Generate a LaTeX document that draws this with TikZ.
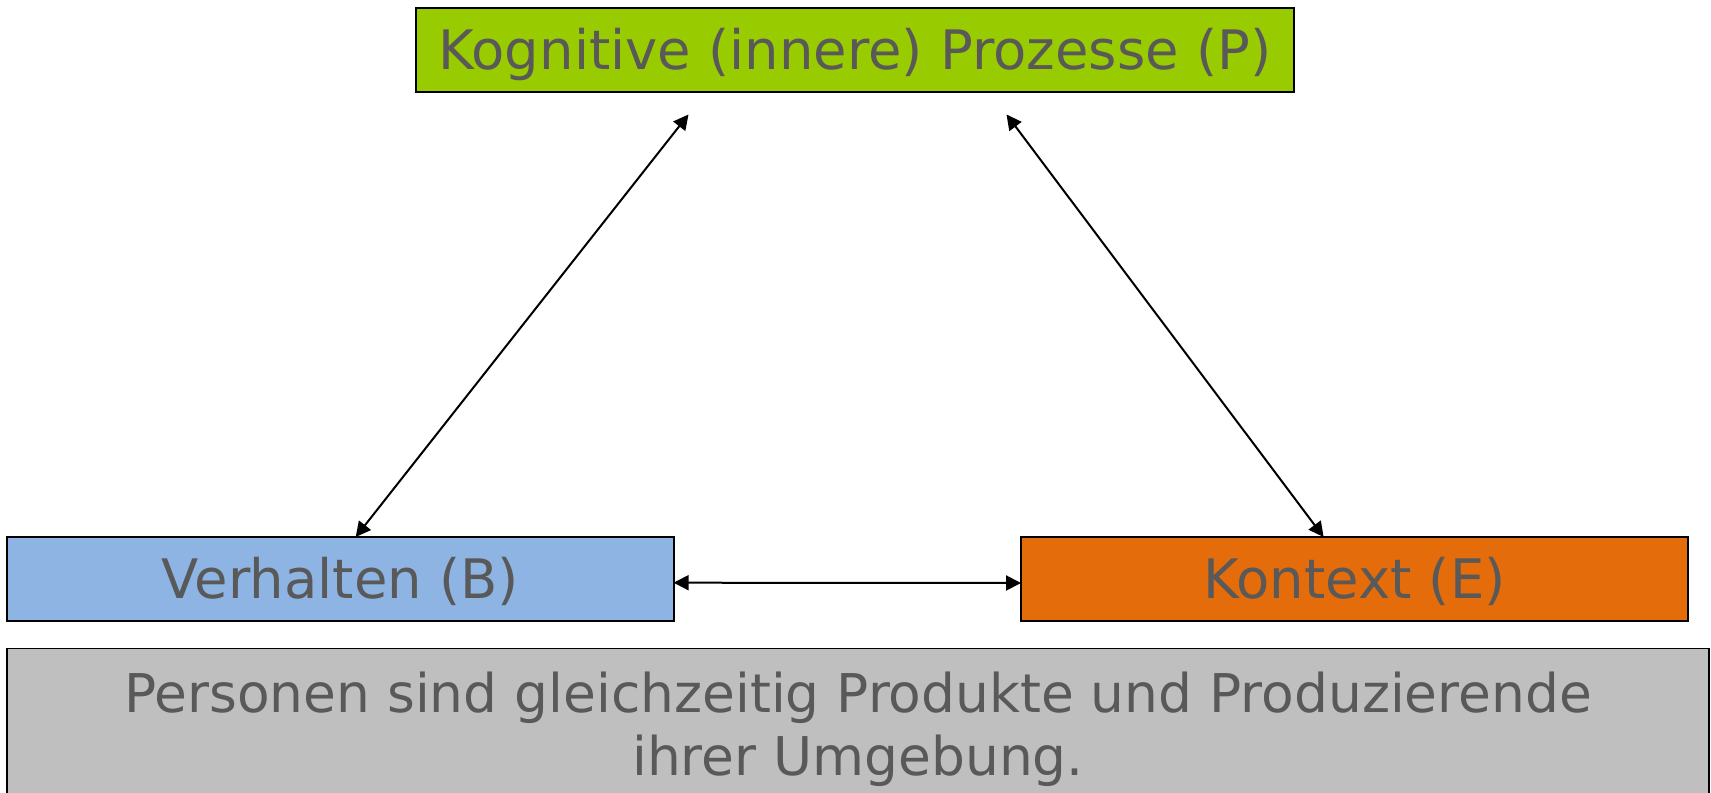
\documentclass[tikz,border=0pt]{standalone}
\usepackage{fontspec}
\setmainfont{DejaVu Sans}
\usetikzlibrary{arrows.meta}
\definecolor{cgreen}{HTML}{99CC00}
\definecolor{cblue}{HTML}{8EB4E3}
\definecolor{corange}{HTML}{E46C0A}
\definecolor{cgray}{HTML}{BFBFBF}
\definecolor{ctext}{HTML}{595959}
\tikzset{
  box/.style={draw=black, line width=0.6pt, minimum height=42pt, inner sep=0pt,
    text=ctext, font=\fontsize{27.2pt}{32pt}\selectfont, text height=19.9pt, text depth=0pt},
  conn/.style={line width=1pt, {Triangle[length=7.5pt,width=7.5pt]}-{Triangle[length=7.5pt,width=7.5pt]}}
}
\begin{document}
\begin{tikzpicture}[x=0.5pt,y=-0.5pt]
\useasboundingbox (0,0) rectangle (1711,792);
\clip (0,0) rectangle (1711,792);
\fill[white] (0,0) rectangle (1711,792);
\node[box, fill=cgreen, minimum width=439pt] (P) at (855,50) {Kognitive (innere) Prozesse (P)};
\node[box, fill=cblue, minimum width=333.5pt] (B) at (340.5,579) {Verhalten (B)};
\node[box, fill=corange, minimum width=333.5pt] (E) at (1354.5,579) {Kontext (E)};
\node[draw=black, line width=0.6pt, fill=cgray, minimum width=851pt, minimum height=95pt, inner sep=0pt] (G) at (858,743.5) {};
\node[text=ctext, font=\fontsize{26.7pt}{31.65pt}\selectfont, align=center, anchor=center] (Gt) at (858,729.6) {Personen sind gleichzeitig Produkte und Produzierende\\ihrer Umgebung.};
\coordinate (pl) at (688.5,114.5);
\coordinate (pr) at (1006.5,114.5);
\coordinate (bt) at (355.7,537);
\coordinate (et) at (1323.6,537);
\coordinate (br) at (673.6,582.7);
\coordinate (el) at (1021,583);
\draw[conn] (pl) -- (bt);
\draw[conn] (pr) -- (et);
\draw[conn] (br) -- (el);
\end{tikzpicture}
\end{document}
